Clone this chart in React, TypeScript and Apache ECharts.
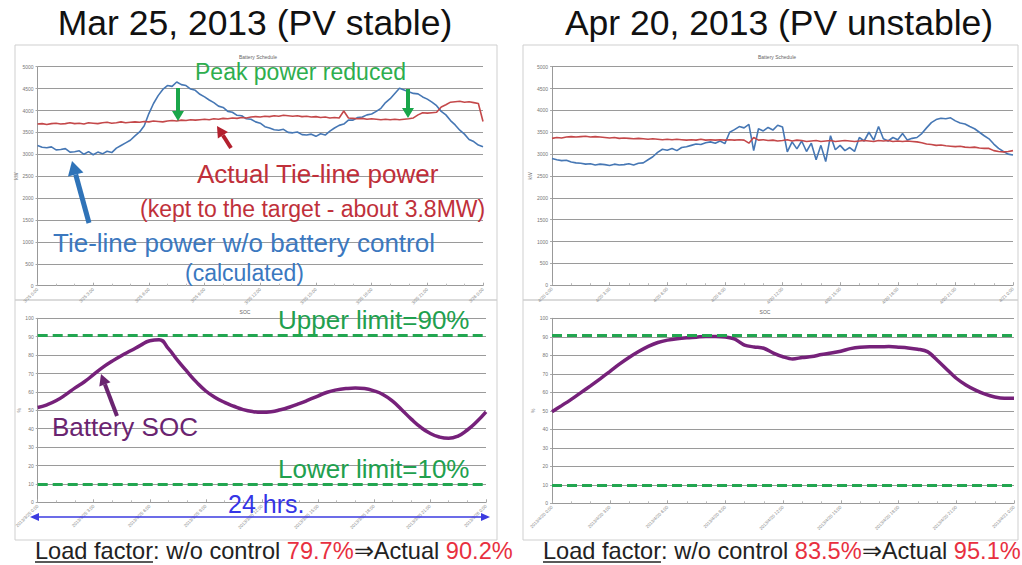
import React, { useEffect, useRef } from "react";
import * as echarts from "echarts";

const FONT = "'Liberation Sans', Arial, Helvetica, sans-serif";

// time step of the power series (hours) and SOC series
const POWER_STEP = 0.25;
const SOC_STEP = 0.5;

// x-axis tick labels (every 3 h)
const xLabelsMarTop = ["3/25 0:00", "3/25 3:00", "3/25 6:00", "3/25 9:00", "3/25 12:00", "3/25 15:00", "3/25 18:00", "3/25 21:00", "3/26 0:00"];
const xLabelsMarBottom = ["2013/3/25 0:00", "2013/3/25 3:00", "2013/3/25 6:00", "2013/3/25 9:00", "2013/3/25 12:00", "2013/3/25 15:00", "2013/3/25 18:00", "2013/3/25 21:00", "2013/3/26 0:00"];
const xLabelsAprTop = ["4/20 0:00", "4/20 3:00", "4/20 6:00", "4/20 9:00", "4/20 12:00", "4/20 15:00", "4/20 18:00", "4/20 21:00", "4/21 0:00"];
const xLabelsAprBottom = ["2013/4/20 0:00", "2013/4/20 3:00", "2013/4/20 6:00", "2013/4/20 9:00", "2013/4/20 12:00", "2013/4/20 15:00", "2013/4/20 18:00", "2013/4/20 21:00", "2013/4/21 0:00"];

// Mar 25 tie-line power w/o battery control (kW), every 15 min
const marNoControl = [
  3200, 3160, 3150, 3170, 3100, 3110, 3130, 3050,
  3060, 3080, 3000, 3060, 2990, 3050, 3010, 3070,
  3040, 3140, 3200, 3260, 3320, 3420, 3510, 3650,
  3930, 4160, 4340, 4480, 4570, 4550, 4650, 4590,
  4570, 4490, 4460, 4370, 4310, 4240, 4180, 4100,
  4070, 3980, 3960, 3890, 3880, 3810, 3800, 3740,
  3710, 3630, 3600, 3560, 3550, 3570, 3500, 3490,
  3510, 3450, 3440, 3460, 3410, 3470, 3440, 3530,
  3600, 3660, 3690, 3780, 3780, 3840, 3850, 3900,
  3920, 3980, 4050, 4180, 4270, 4390, 4510, 4470,
  4430, 4390, 4380, 4310, 4260, 4190, 4110, 3980,
  3900, 3770, 3670, 3550, 3460, 3340, 3290, 3210,
  3170,
];
// Mar 25 actual tie-line power (kW)
const marActual = [
  3690, 3700, 3680, 3700, 3710, 3690, 3700, 3720,
  3700, 3710, 3690, 3720, 3710, 3700, 3720, 3730,
  3710, 3720, 3740, 3720, 3730, 3740, 3730, 3750,
  3740, 3760, 3750, 3740, 3760, 3770, 3760, 3780,
  3770, 3790, 3780, 3790, 3800, 3790, 3810, 3800,
  3820, 3810, 3830, 3820, 3840, 3830, 3850, 3860,
  3850, 3870, 3860, 3880, 3870, 3890, 3880, 3870,
  3880, 3860, 3870, 3850, 3860, 3840, 3850, 3830,
  3840, 3830, 3990, 3830, 3820, 3810, 3820, 3800,
  3810, 3800, 3790, 3800, 3790, 3800, 3790, 3800,
  3810, 3830, 3900, 3950, 3940, 3950, 3960, 4080,
  4130, 4190, 4200, 4210, 4190, 4200, 4180, 4160,
  3750,
];
// Apr 20 tie-line power w/o battery control (kW)
const aprNoControl = [
  2900, 2870, 2850, 2860, 2820, 2800, 2790, 2770,
  2780, 2750, 2770, 2760, 2740, 2770, 2750, 2760,
  2780, 2750, 2790, 2800, 2870, 2940, 3040, 3110,
  3090, 3130, 3080, 3150, 3170, 3200, 3230, 3220,
  3260, 3280, 3250, 3300, 3240, 3500, 3560, 3630,
  3600, 3680, 3080, 3580, 3530, 3610, 3550, 3660,
  3620, 3050, 3280, 3120, 3300, 3060, 3250, 2870,
  3200, 2830, 3420, 3100, 3200, 3080, 3150, 3060,
  3380, 3300, 3500, 3320, 3630, 3350, 3300, 3380,
  3330, 3470, 3320, 3360, 3380, 3470, 3600, 3720,
  3790, 3820, 3810, 3830, 3760, 3710, 3690, 3630,
  3580, 3500, 3420, 3350, 3230, 3130, 3060, 3000,
  2980,
];
// Apr 20 actual tie-line power (kW)
const aprActual = [
  3360, 3380, 3370, 3390, 3400, 3390, 3400, 3410,
  3390, 3400, 3390, 3380, 3370, 3380, 3360, 3370,
  3360, 3350, 3360, 3350, 3340, 3350, 3340, 3330,
  3340, 3330, 3340, 3330, 3320, 3330, 3320, 3340,
  3320, 3330, 3320, 3330, 3320, 3330, 3320, 3330,
  3320, 3250, 3380, 3320, 3330, 3310, 3320, 3300,
  3310, 3330, 3300, 3320, 3310, 3290, 3300, 3310,
  3290, 3300, 3310, 3290, 3300, 3310, 3300, 3290,
  3300, 3310, 3300, 3290, 3310, 3300, 3310, 3290,
  3300, 3290, 3300, 3290, 3280, 3260, 3230, 3220,
  3200, 3210, 3190, 3180, 3170, 3180, 3160, 3150,
  3160, 3140, 3130, 3130, 3080, 3060, 3050, 3060,
  3080,
];
// Battery SOC (%), every 30 min
const marSoc = [
  51.5, 53, 55.3, 58.5, 62.2, 65.5, 69.5, 73.5, 76.8, 79.8, 82.5, 85.3,
  87.8, 88.4, 83.5, 77, 71, 65.3, 60.5, 57, 54.3, 52.2, 50.4, 49.3,
  48.9, 49.2, 50.3, 51.8, 53.6, 55.6, 57.7, 59.8, 61.1, 61.8, 62.1, 61.8,
  60.6, 58.5, 55, 50.2, 45.2, 40.8, 37.5, 35.5, 34.8, 36, 39.3, 43.8,
  49.2,
];
const aprSoc = [
  49.5, 52.8, 56.2, 59.8, 63.5, 67.3, 71.2, 75.2, 78.8, 82, 84.8, 86.9,
  88.2, 89, 89.5, 89.8, 90.2, 90.2, 89.9, 88.7, 85.5, 84.5, 83.8, 81.2,
  79.2, 78, 78.8, 79.3, 80.4, 81.2, 82.2, 83.6, 84.4, 84.6, 84.6, 84.7,
  84.4, 84, 83.3, 82, 77.5, 72.5, 67.6, 64, 61.2, 59, 57.5, 56.8,
  56.8,
];
const socUpperLimit = 91;
const socLowerLimit = 10;

const BLUE = "#4677b4";
const RED = "#c4484a";
const PURPLE = "#76217a";
const GREEN = "#22a650";

function arrow(x1: number, y1: number, x2: number, y2: number, color: string, w: number, hl: number, hw: number, both = false) {
  const dx = x2 - x1, dy = y2 - y1;
  const L = Math.hypot(dx, dy);
  const ux = dx / L, uy = dy / L;
  const px = -uy, py = ux;
  const bx = x2 - ux * hl, by = y2 - uy * hl;
  const sx = both ? x1 + ux * hl : x1, sy = both ? y1 + uy * hl : y1;
  const els: any[] = [
    { type: "line", shape: { x1: sx, y1: sy, x2: bx, y2: by }, style: { stroke: color, lineWidth: w }, z: 100 },
    { type: "polygon", shape: { points: [[x2, y2], [bx + px * hw, by + py * hw], [bx - px * hw, by - py * hw]] }, style: { fill: color }, z: 100 },
  ];
  if (both) {
    els.push({ type: "polygon", shape: { points: [[x1, y1], [sx + px * hw, sy + py * hw], [sx - px * hw, sy - py * hw]] }, style: { fill: color }, z: 100 });
  }
  return els;
}

function txt(x: number, y: number, text: string, size: number, color: string, align = "left") {
  return { type: "text", x, y, z: 100, style: { text, fontSize: size, fontFamily: FONT, fill: color, align, verticalAlign: "middle" } };
}

function xAx(gridIndex: number, labels: string[]) {
  return {
    type: "value", gridIndex, min: 0, max: 24, interval: 3,
    axisLine: { show: true, lineStyle: { color: "#999", width: 1 } },
    axisTick: { show: true, inside: true, length: 3, lineStyle: { color: "#aaa" } },
    minorTick: { show: true, splitNumber: 3, length: 2, lineStyle: { color: "#bbb" } },
    splitLine: { show: false },
    axisLabel: { rotate: 45, fontSize: 4.5, color: "#888", margin: 3, fontFamily: FONT, formatter: (v: number) => labels[Math.round(v / 3)] },
  };
}

function yAx(gridIndex: number, max: number, interval: number, name: string) {
  return {
    type: "value", gridIndex, min: 0, max, interval, name, nameLocation: "middle", nameGap: 15,
    nameTextStyle: { fontSize: 5, color: "#777", fontFamily: FONT },
    axisLine: { show: true, lineStyle: { color: "#999" } },
    axisTick: { show: true, length: 2, lineStyle: { color: "#aaa" } },
    splitLine: { lineStyle: { color: "#9a9a9a", width: 1 } },
    axisLabel: { fontSize: 5, color: "#777", margin: 4, fontFamily: FONT, formatter: (v: number) => String(v) },
  };
}

function powerSeries(data: number[], idx: number, color: string) {
  return {
    type: "line", xAxisIndex: idx, yAxisIndex: idx, showSymbol: false, silent: true,
    data: data.map((v, i) => [i * POWER_STEP, v]),
    lineStyle: { color, width: 1.6 },
  };
}

function socSeries(data: number[], idx: number, smooth: number) {
  return {
    type: "line", xAxisIndex: idx, yAxisIndex: idx, showSymbol: false, silent: true, smooth,
    data: data.map((v, i) => [i * SOC_STEP, v]),
    lineStyle: { color: PURPLE, width: 3.5 },
    markLine: {
      silent: true, symbol: ["none", "none"], label: { show: false },
      lineStyle: { color: GREEN, type: [10, 5], width: 3 },
      data: [{ yAxis: socUpperLimit }, { yAxis: socLowerLimit }],
    },
  };
}

export default function App() {
  const ref = useRef<HTMLDivElement>(null);
  useEffect(() => {
    if (!ref.current) return;
    const chart = echarts.init(ref.current, undefined, { renderer: "svg" });
    const FS = 23.6;
    const rich = (a: string, b: string) => ({
      type: "text", z: 100,
      style: {
        text: `{u|Load factor}: w/o control {r|${a}}⇒Actual {r|${b}}`,
        fontSize: FS, fontFamily: FONT, fill: "#222", verticalAlign: "middle",
        rich: {
          u: { fontSize: FS, fontFamily: FONT, fill: "#222", color: "#222" },
          r: { fontSize: FS, fontFamily: FONT, fill: "#e8303f", color: "#e8303f" },
        },
      },
    });
    const elements: any[] = [
      // panel frames
      { type: "rect", shape: { x: 15, y: 45, width: 482, height: 255 }, style: { fill: "none", stroke: "#cfcfcf", lineWidth: 1 } },
      { type: "rect", shape: { x: 15, y: 300, width: 482, height: 240 }, style: { fill: "none", stroke: "#cfcfcf", lineWidth: 1 } },
      { type: "rect", shape: { x: 523, y: 45, width: 495, height: 255 }, style: { fill: "none", stroke: "#cfcfcf", lineWidth: 1 } },
      { type: "rect", shape: { x: 523, y: 300, width: 495, height: 240 }, style: { fill: "none", stroke: "#cfcfcf", lineWidth: 1 } },
      // titles
      txt(255, 23, "Mar 25, 2013 (PV stable)", 35.5, "#111", "center"),
      txt(779, 23, "Apr 20, 2013 (PV unstable)", 35.5, "#111", "center"),
      txt(258, 57, "Battery Schedule", 5, "#666", "center"),
      txt(777, 57, "Battery Schedule", 5, "#666", "center"),
      txt(245, 312, "SOC", 5, "#666", "center"),
      txt(765, 312, "SOC", 5, "#666", "center"),
      // annotations (top-left)
      txt(195, 72, "Peak power reduced", 23, "#2eae4e"),
      txt(197, 174, "Actual Tie-line power", 26, "#c0303a"),
      txt(140, 209, "(kept to the target - about 3.8MW)", 23, "#c0303a"),
      txt(53, 243, "Tie-line power w/o battery control", 26, "#3b78bf"),
      txt(185, 273, "(calculated)", 23, "#3b78bf"),
      ...arrow(178, 88, 178, 121, "#1aa64a", 4, 10, 6),
      ...arrow(408, 89, 408, 118, "#1aa64a", 4, 10, 6),
      ...arrow(231, 148, 217, 126, "#b3202e", 4, 11, 6),
      ...arrow(89, 223, 72, 161, "#2f73b8", 5, 14, 8),
      // annotations (bottom-left)
      txt(278, 320, "Upper limit=90%", 26, "#21a04e"),
      txt(278, 469, "Lower limit=10%", 26, "#21a04e"),
      txt(52, 427, "Battery SOC", 26, "#6a2470"),
      ...arrow(117, 416, 101, 374, "#6a2470", 4, 11, 6),
      txt(228, 504, "24 hrs.", 25, "#3535e6"),
      ...arrow(30, 517, 490, 517, "#3b3be0", 1.5, 9, 4, true),
      // load factor lines
      { ...rich("79.7%", "90.2%"), x: 35, y: 551 },
      { type: "line", z: 100, shape: { x1: 35, y1: 562, x2: 153, y2: 562 }, style: { stroke: "#222", lineWidth: 1.3 } },
      { ...rich("83.5%", "95.1%"), x: 543, y: 551 },
      { type: "line", z: 100, shape: { x1: 543, y1: 562, x2: 661, y2: 562 }, style: { stroke: "#222", lineWidth: 1.3 } },
    ];
    chart.setOption({
      animation: false,
      backgroundColor: "#fff",
      grid: [
        { left: 37.5, top: 66.7, width: 445.5, height: 219 },
        { left: 552, top: 66.7, width: 461, height: 218.5 },
        { left: 37.7, top: 318.3, width: 448.3, height: 184 },
        { left: 552, top: 318.3, width: 462, height: 185 },
      ],
      xAxis: [xAx(0, xLabelsMarTop), xAx(1, xLabelsAprTop), xAx(2, xLabelsMarBottom), xAx(3, xLabelsAprBottom)],
      yAxis: [yAx(0, 5000, 500, "kW"), yAx(1, 5000, 500, "kW"), yAx(2, 100, 10, "%"), yAx(3, 100, 10, "%")],
      series: [
        powerSeries(marNoControl, 0, BLUE),
        powerSeries(marActual, 0, RED),
        powerSeries(aprNoControl, 1, BLUE),
        powerSeries(aprActual, 1, RED),
        socSeries(marSoc, 2, 0.5),
        socSeries(aprSoc, 3, 0.3),
      ],
      graphic: { elements },
    });
    return () => chart.dispose();
  }, []);
  return <div ref={ref} style={{ position: "absolute", left: 0, top: 0, width: 1022, height: 565, background: "#fff" }} />;
}
